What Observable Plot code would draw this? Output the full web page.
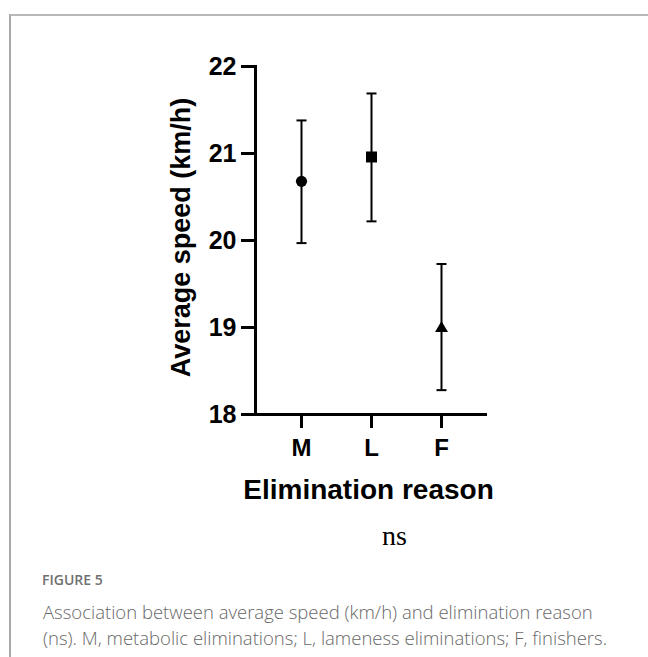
<!DOCTYPE html>
<html>
<head>
<meta charset="utf-8">
<script src="https://cdn.jsdelivr.net/npm/d3@7"></script>
<script src="https://cdn.jsdelivr.net/npm/@observablehq/plot@0.6"></script>
<style>
  html, body { margin: 0; padding: 0; background: #fff; }
  body { width: 648px; height: 657px; position: relative; overflow: hidden; }
  #border { position: absolute; left: 9px; top: 14px; right: -5px; bottom: -10px;
            border-top: 2px solid #b8b8b8; border-left: 2px solid #a8a8a8; }
  #chart { position: absolute; left: 0; top: 0; }
  #figlabel { position: absolute; left: 42px; top: 572px; font-family: "Open Sans", sans-serif;
              font-size: 14px; line-height: 16px; font-weight: 600; color: #707070; }
  #caption { position: absolute; left: 43px; top: 599px; font-family: "Open Sans", sans-serif;
             font-size: 18.5px; line-height: 26px; font-weight: 300; color: #686868; white-space: nowrap; }
</style>
</head>
<body>
<div id="border"></div>
<div id="chart"></div>
<div id="figlabel">FIGURE 5</div>
<div id="caption">Association between average speed (km/h) and elimination reason<br>(ns). M, metabolic eliminations; L, lameness eliminations; F, finishers.</div>
<script>
const reasons = ["M", "L", "F"];
const means = [20.68, 20.96, 18.99];
const lower = [19.97, 20.22, 18.28];
const upper = [21.38, 21.69, 19.73];
const yTicks = [18, 19, 20, 21, 22];
const yTitle = "Average speed (km/h)";
const xTitle = "Elimination reason";
const note = "ns";

const data = reasons.map((r, i) => ({reason: r, mean: means[i], lo: lower[i], hi: upper[i]}));
const sans = "'Liberation Sans', Arial, Helvetica, sans-serif";

// horizontal cap symbol for the error bars
const cap = {draw(context) { context.moveTo(-5, 0); context.lineTo(5, 0); }};

const chart = Plot.plot({
  width: 648,
  height: 560,
  marginLeft: 255,
  marginRight: 161,
  marginTop: 66,
  marginBottom: 146,
  style: {fontFamily: sans, background: "transparent", overflow: "visible", color: "#000"},
  x: {type: "point", domain: reasons, padding: 0.657},
  y: {domain: [18, 22]},
  symbol: {domain: reasons, range: ["circle", "square", "triangle"]},
  marks: [
    Plot.axisY({ticks: yTicks, tickSize: 14, tickPadding: 5, fontSize: 25, fontWeight: "bold",
                strokeWidth: 3, label: null, tickFormat: d => String(d)}),
    Plot.axisX({tickSize: 14, tickPadding: 10, fontSize: 24, fontWeight: "bold",
                strokeWidth: 3, label: null}),
    Plot.frame({anchor: "left", strokeWidth: 3}),
    Plot.ruleY([18], {strokeWidth: 3}),
    Plot.ruleX(data, {x: "reason", y1: "lo", y2: "hi", strokeWidth: 2}),
    Plot.dot(data, {x: "reason", y: "hi", symbol: cap, stroke: "#000", strokeWidth: 2}),
    Plot.dot(data, {x: "reason", y: "lo", symbol: cap, stroke: "#000", strokeWidth: 2}),
    Plot.dot(data, {filter: d => d.reason === "M", x: "reason", y: "mean", symbol: "reason", fill: "#000", r: 5.6}),
    Plot.dot(data, {filter: d => d.reason === "L", x: "reason", y: "mean", symbol: "reason", fill: "#000", r: 6.2}),
    Plot.dot(data, {filter: d => d.reason === "F", x: "reason", y: "mean", symbol: "reason", fill: "#000", r: 4.8}),
    Plot.text([yTitle], {frameAnchor: "left", textAnchor: "middle", lineAnchor: "middle", dx: -74, dy: -3,
                         rotate: -90, fontSize: 27, fontWeight: "bold"}),
    Plot.text([xTitle], {frameAnchor: "bottom", textAnchor: "middle", lineAnchor: "middle", dx: -3, dy: 76,
                         fontSize: 28, fontWeight: "bold"}),
    Plot.text([note], {frameAnchor: "bottom", textAnchor: "middle", lineAnchor: "middle", dx: 23, dy: 122,
                       fontSize: 28, fontFamily: "'Liberation Serif', 'Times New Roman', serif"})
  ]
});
document.getElementById("chart").appendChild(chart);
</script>
</body>
</html>
